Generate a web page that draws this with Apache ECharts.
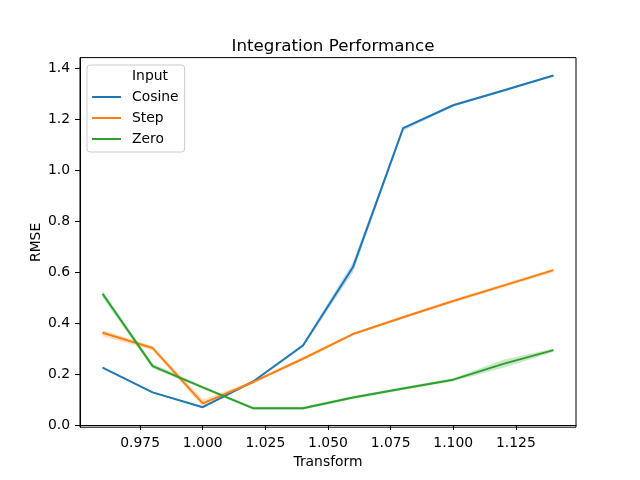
<!DOCTYPE html>
<html>
<head>
<meta charset="utf-8">
<script src="https://cdn.jsdelivr.net/npm/echarts@6/dist/echarts.min.js"></script>
<style>html,body{margin:0;padding:0;background:#fff}#chart{width:640px;height:480px}</style>
</head>
<body>
<div id="chart"></div>
<script>
const transform = [0.96, 0.98, 1.00, 1.02, 1.04, 1.06, 1.08, 1.10, 1.12, 1.14];
const cosine = [0.225, 0.128, 0.070, 0.170, 0.312, 0.620, 1.165, 1.255, 1.313, 1.372];
const cosineLow = [0.222, 0.125, 0.066, 0.166, 0.305, 0.600, 1.155, 1.250, 1.308, 1.368];
const cosineHigh = [0.228, 0.131, 0.074, 0.174, 0.318, 0.640, 1.170, 1.260, 1.318, 1.376];
const step = [0.362, 0.302, 0.085, 0.168, 0.260, 0.357, 0.423, 0.487, 0.547, 0.608];
const stepLow = [0.348, 0.293, 0.072, 0.162, 0.254, 0.352, 0.417, 0.481, 0.540, 0.600];
const stepHigh = [0.372, 0.310, 0.100, 0.174, 0.266, 0.362, 0.429, 0.493, 0.554, 0.614];
const zero = [0.515, 0.231, 0.148, 0.066, 0.066, 0.108, 0.143, 0.178, 0.240, 0.294];
const zeroLow = [0.500, 0.222, 0.142, 0.060, 0.060, 0.102, 0.137, 0.172, 0.225, 0.287];
const zeroHigh = [0.528, 0.240, 0.154, 0.072, 0.072, 0.114, 0.149, 0.184, 0.256, 0.300];
const xTicks = [0.975, 1.000, 1.025, 1.050, 1.075, 1.100, 1.125];
const yTicks = [0.0, 0.2, 0.4, 0.6, 0.8, 1.0, 1.2, 1.4];
const seriesNames = ['Cosine', 'Step', 'Zero'];
const legendTitle = 'Input';

const colors = ['#1f77b4', '#ff7f0e', '#2ca02c'];
const mains = [cosine, step, zero];
const lows = [cosineLow, stepLow, zeroLow];
const highs = [cosineHigh, stepHigh, zeroHigh];
const FONT = 'DejaVu Sans';

const series = [];
seriesNames.forEach((name, i) => {
  const rows = transform.map((x, k) => [x, lows[i][k], highs[i][k]]);
  series.push({
    name: name + '_band', type: 'custom', silent: true, z: 1,
    encode: { x: 0, y: [1, 2] },
    data: rows,
    renderItem: function (params, api) {
      if (params.dataIndex !== 0) return null;
      const pts = [];
      rows.forEach(r => pts.push(api.coord([r[0], r[2]])));
      for (let k = rows.length - 1; k >= 0; k--) pts.push(api.coord([rows[k][0], rows[k][1]]));
      return {
        type: 'polygon',
        shape: { points: pts },
        style: { fill: colors[i], opacity: 0.25, stroke: null }
      };
    }
  });
});
seriesNames.forEach((name, i) => {
  series.push({
    name: name, type: 'line', color: colors[i],
    data: transform.map((x, k) => [x, mains[i][k]]),
    showSymbol: false, symbol: 'none', lineStyle: { width: 2, color: colors[i] }, z: 3
  });
});
series.push({ name: legendTitle, type: 'line', data: [], color: 'rgba(0,0,0,0)' });

const chart = echarts.init(document.getElementById('chart'), null, { renderer: 'canvas' });
chart.setOption({
  animation: false,
  backgroundColor: '#fff',
  textStyle: { fontFamily: FONT },
  title: {
    text: 'Integration Performance', left: 328, textAlign: 'center', top: 33,
    textStyle: { fontFamily: FONT, fontSize: 16.7, fontWeight: 'normal', color: '#000' }
  },
  legend: {
    orient: 'vertical', left: 87, top: 65,
    data: [{ name: legendTitle, itemStyle: { opacity: 0 } }].concat(seriesNames),
    icon: 'rect', itemWidth: 29, itemHeight: 2, itemGap: 7,
    padding: [4, 6, 6, 5],
    borderColor: '#cccccc', borderWidth: 1, borderRadius: 3,
    backgroundColor: 'rgba(255,255,255,0.8)',
    textStyle: { fontFamily: FONT, fontSize: 13.9, color: '#000', lineHeight: 14, padding: [0, 0, 0, 6] }
  },
  grid: { left: 80, right: 64, top: 57.6, bottom: 52.8, show: true, borderColor: '#000', borderWidth: 1, containLabel: false },
  xAxis: {
    type: 'value', min: 0.951, max: 1.149,
    name: 'Transform', nameLocation: 'middle', nameGap: 28, nameMoveOverlap: false,
    nameTextStyle: { fontFamily: FONT, fontSize: 13.9, color: '#000' },
    axisLine: { show: true, lineStyle: { color: '#000', width: 1 } },
    axisTick: { show: true, length: 5, lineStyle: { color: '#000' }, customValues: xTicks },
    axisLabel: { color: '#000', fontFamily: FONT, fontSize: 13.9, margin: 9, customValues: xTicks,
      formatter: v => v.toFixed(3) },
    splitLine: { show: false }
  },
  yAxis: {
    type: 'value', min: -0.0086, max: 1.442,
    name: 'RMSE', nameLocation: 'middle', nameGap: 37, nameMoveOverlap: false,
    nameTextStyle: { fontFamily: FONT, fontSize: 13.9, color: '#000' },
    axisLine: { show: true, lineStyle: { color: '#000', width: 1 } },
    axisTick: { show: true, length: 5, lineStyle: { color: '#000' }, customValues: yTicks },
    axisLabel: { color: '#000', fontFamily: FONT, fontSize: 13.9, margin: 10, customValues: yTicks,
      formatter: v => v.toFixed(1) },
    splitLine: { show: false }
  },
  series: series
});
</script>
</body>
</html>
